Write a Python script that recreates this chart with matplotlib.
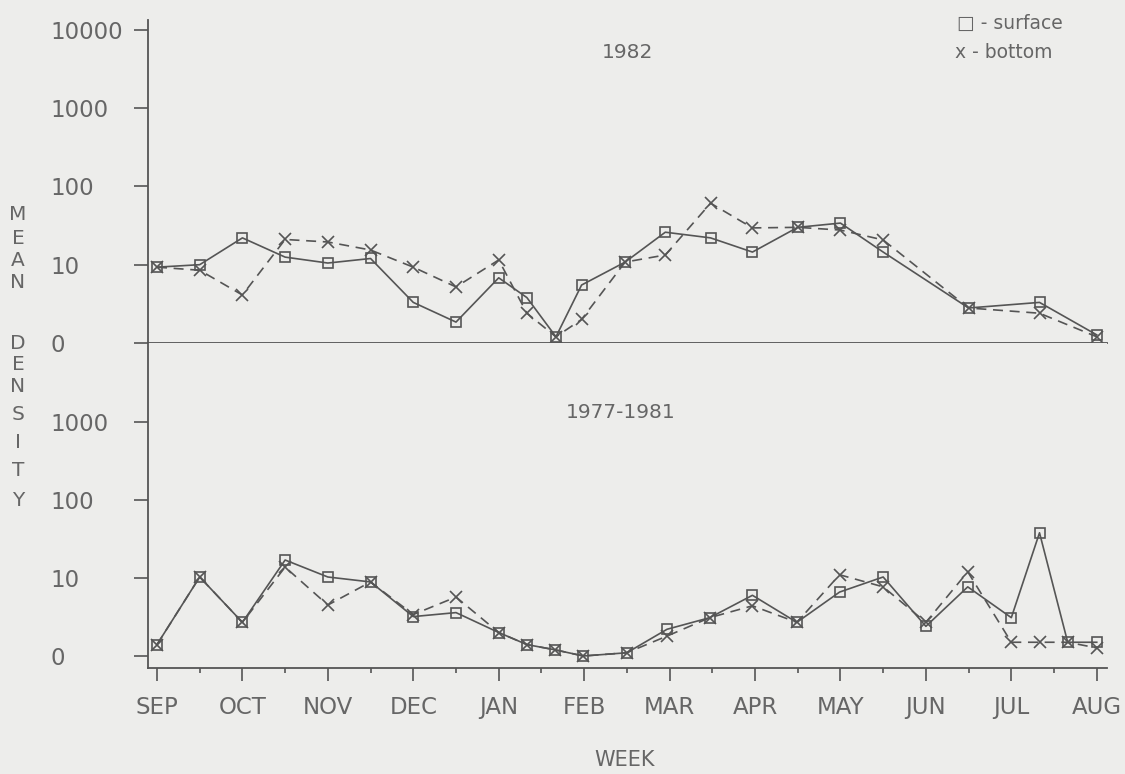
import matplotlib
matplotlib.use("Agg")
import matplotlib.pyplot as plt
from matplotlib.ticker import NullLocator, FixedLocator
import numpy as np

months = ['SEP', 'OCT', 'NOV', 'DEC', 'JAN', 'FEB', 'MAR', 'APR', 'MAY', 'JUN', 'JUL', 'AUG']

# sample weeks, in months since start of SEP
week_1982 = [0, 0.5, 1.0, 1.5, 2.0, 2.5, 3.0, 3.5, 4.0, 4.33, 4.67, 4.97,
             5.48, 5.95, 6.48, 6.97, 7.5, 8.0, 8.5, 9.5, 10.33, 11.0]
surface_1982 = [9.3, 10, 22, 12.5, 10.5, 12, 3.3, 1.85, 6.8, 3.8, 1.2, 5.5,
                10.8, 26, 22, 14.5, 30, 34, 14.5, 2.8, 3.3, 1.27]
bottom_1982 = [9.3, 8.5, 4.1, 21, 19.5, 15.4, 9.3, 5.2, 11.5, 2.4, 1.2, 2.0,
               10.8, 13.3, 61, 29.5, 30, 27.7, 20.7, 2.8, 2.4, 1.2]

week_7781 = [0, 0.5, 1.0, 1.5, 2.0, 2.5, 3.0, 3.5, 4.0, 4.33, 4.66, 4.99,
             5.5, 5.97, 6.47, 6.97, 7.49, 7.99, 8.5, 9.0, 9.49, 10.0, 10.33, 10.66, 11.0]
surface_7781 = [1.4, 10.3, 2.7, 17, 10.3, 8.9, 3.2, 3.6, 2.0, 1.4, 1.2, 1.0,
                1.1, 2.2, 3.1, 6.0, 2.7, 6.6, 10.3, 2.4, 7.7, 3.1, 38, 1.5, 1.5]
bottom_7781 = [1.4, 10.3, 2.7, 13.8, 4.5, 8.9, 3.4, 5.7, 2.0, 1.4, 1.2, 1.0,
               1.1, 1.8, 3.1, 4.4, 2.7, 11, 7.7, 2.7, 12, 1.5, 1.5, 1.5, 1.27]

ticks_top = [1, 10, 100, 1000, 10000]
labels_top = ['0', '10', '100', '1000', '10000']
ticks_bot = [1, 10, 100, 1000]
labels_bot = ['0', '10', '100', '1000']

ink = '#555555'
txt = '#666666'
bg = '#ededeb'

plt.rcParams['font.family'] = ['DejaVu Sans']

fig = plt.figure(figsize=(11.25, 7.74), dpi=100, facecolor=bg)
W, H = 1125, 774
left = 148 / W
width = (1107 - 148) / W
ax1 = fig.add_axes([left, 1 - 343 / H, width, (343 - 20) / H])
ax2 = fig.add_axes([left, 1 - 668 / H, width, (668 - 343) / H])

for ax in (ax1, ax2):
    ax.set_facecolor(bg)
    ax.set_yscale('log')
    ax.set_xlim(-0.105, 11.12)
    for s in ('top', 'right'):
        ax.spines[s].set_visible(False)
    for s in ('left', 'bottom'):
        ax.spines[s].set_color(ink)
        ax.spines[s].set_linewidth(1.3)
    ax.yaxis.set_minor_locator(NullLocator())
    ax.tick_params(axis='y', length=10, width=1.2, color=ink, pad=60,
                   labelsize=16.5, labelcolor=txt)

ax1.set_ylim(1, 10 ** 4.125)
ax2.set_ylim(10 ** -0.154, 10 ** 4.013)

ax1.yaxis.set_major_locator(FixedLocator(ticks_top))
ax1.set_yticklabels(labels_top)
ax2.yaxis.set_major_locator(FixedLocator(ticks_bot))
ax2.set_yticklabels(labels_bot)
for ax in (ax1, ax2):
    for lab in ax.get_yticklabels():
        lab.set_horizontalalignment('left')

ax1.set_xticks([])
ax2.set_xticks(range(len(months)))
ax2.set_xticklabels(months)
ax2.set_xticks(np.arange(0.5, 11, 1), minor=True)
ax2.tick_params(axis='x', which='major', length=9, width=1.2, color=ink,
                pad=11, labelsize=16.5, labelcolor=txt)
ax2.tick_params(axis='x', which='minor', length=3.5, width=1.2, color=ink)

def draw(ax, wk, surf, bott):
    ax.plot(wk, surf, color=ink, lw=1.2, marker='s', ms=6.5, mfc='none',
            mec=ink, mew=1.2, clip_on=False)
    ax.plot(wk, bott, color=ink, lw=1.2, ls=(0, (6, 4)), marker='x', ms=8.5,
            mec=ink, mew=1.2, clip_on=False)

draw(ax1, week_1982, surface_1982, bottom_1982)
draw(ax2, week_7781, surface_7781, bottom_7781)

fig.text(628 / W, 1 - 52 / H, '1982', ha='center', va='center', fontsize=14.5, color=txt)
fig.text(621 / W, 1 - 412 / H, '1977-1981', ha='center', va='center', fontsize=14.5, color=txt)
fig.text(625 / W, 1 - 760 / H, 'WEEK', ha='center', va='center', fontsize=15, color=txt)
fig.text(957 / W, 1 - 23 / H, '\u25a1 - surface', ha='left', va='center', fontsize=13.5, color=txt)
fig.text(955 / W, 1 - 52 / H, 'x - bottom', ha='left', va='center', fontsize=13.5, color=txt)

ylab = 'MEAN DENSITY'
ypos = [215, 239, 261, 283, None, 343, 364, 386, 415, 443, 471, 500]
for ch, yp in zip(ylab, ypos):
    if yp is None:
        continue
    fig.text(18 / W, 1 - yp / H, ch, ha='center', va='center', fontsize=14.5, color=txt)

fig.savefig('out.png', dpi=100, facecolor=bg)
